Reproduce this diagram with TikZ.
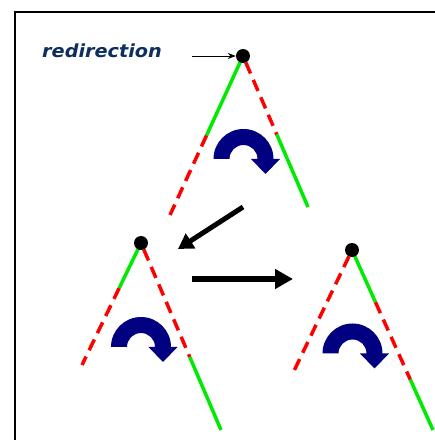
\documentclass[tikz,border=0pt]{standalone}
\usepackage{fontspec}
\newfontfamily\labelfont{DejaVu Sans}
\usetikzlibrary{arrows.meta,calc}
\definecolor{navyarc}{RGB}{0,0,128}
\definecolor{textnavy}{RGB}{14,46,94}
\definecolor{brgreen}{RGB}{0,235,0}
\newcommand\turnarrow[1]{%
  \fill[navyarc] ($(#1)+(-30,0)$) arc[start angle=180,end angle=0,radius=30]
    -- ++(6.5,0) -- ++(-14.5,-15) -- ++(-14.5,15) -- ++(6.5,0)
    arc[start angle=0,end angle=180,radius=14] -- cycle;}
\begin{document}
\begin{tikzpicture}[x=1pt,y=1pt,
  dotnode/.style={circle,fill=black,inner sep=0pt,minimum size=14pt},
  okline/.style={brgreen,line width=3.5pt},
  badline/.style={red,line width=3.5pt,dash pattern=on 12pt off 7pt,dash phase=12pt},
  bigarrow/.style={line width=5pt,-{Triangle[length=15pt,width=17pt]}},
  framestyle/.style={line width=2pt,black}]
\useasboundingbox (0,0) rectangle (435,440);
\fill[white] (0,0) rectangle (435,440);
% frame
\draw[framestyle] (15,0) -- (15,427.5) -- (436,427.5);
% tree points
\coordinate (p1) at (243,384);
\coordinate (l1) at (170,225);
\coordinate (r1) at (308,233);
\coordinate (c1) at (243.5,281);
\coordinate (p2) at (141,197);
\coordinate (l2) at (82,75);
\coordinate (r2) at (221,10);
\coordinate (c2) at (141,93);
\coordinate (p3) at (352,190);
\coordinate (l3) at (293,67);
\coordinate (r3) at (433,10);
\coordinate (c3) at (352.5,86.5);
% tree 1
\draw[okline] (p1) -- ($(p1)!0.5!(l1)$);
\draw[badline,dash phase=0pt] ($(p1)!0.5!(l1)$) -- (l1);
\draw[badline] (p1) -- ($(p1)!0.52!(r1)$);
\draw[okline] ($(p1)!0.52!(r1)$) -- (r1);
% tree 2
\draw[okline] (p2) -- ($(p2)!0.37!(l2)$);
\draw[badline,dash phase=0pt] ($(p2)!0.37!(l2)$) -- (l2);
\draw[badline] (p2) -- ($(p2)!0.61!(r2)$);
\draw[okline] ($(p2)!0.61!(r2)$) -- (r2);
% tree 3
\draw[badline] (p3) -- (l3);
\draw[okline] (p3) -- ($(p3)!0.29!(r3)$);
\draw[badline,dash phase=0pt] ($(p3)!0.29!(r3)$) -- ($(p3)!0.72!(r3)$);
\draw[okline] ($(p3)!0.72!(r3)$) -- (r3);
% dots
\node[dotnode] (d1) at (p1) {};
\node[dotnode] (d2) at (p2) {};
\node[dotnode] (d3) at (p3) {};
% rotation arrows
\turnarrow{c1}
\turnarrow{c2}
\turnarrow{c3}
% label
\node[anchor=base west,inner sep=0pt,text=textnavy,xscale=1.07,
      font=\labelfont\bfseries\itshape\fontsize{18}{20}\selectfont] (lbl) at (42,382) {redirection};
\coordinate (lblarrow) at (192,384);
\draw[line width=0.9pt,-{Stealth[length=8pt,width=6pt]}] (lblarrow) -- (d1.west);
% transition arrows
\coordinate (a1s) at (243,233);
\coordinate (a1e) at (178,191);
\coordinate (a2s) at (192,161);
\coordinate (a2e) at (293,161);
\draw[bigarrow] (a1s) -- (a1e);
\draw[line width=6pt,-{Triangle[length=18pt,width=19pt]}] (a2s) -- (a2e);
\end{tikzpicture}
\end{document}
